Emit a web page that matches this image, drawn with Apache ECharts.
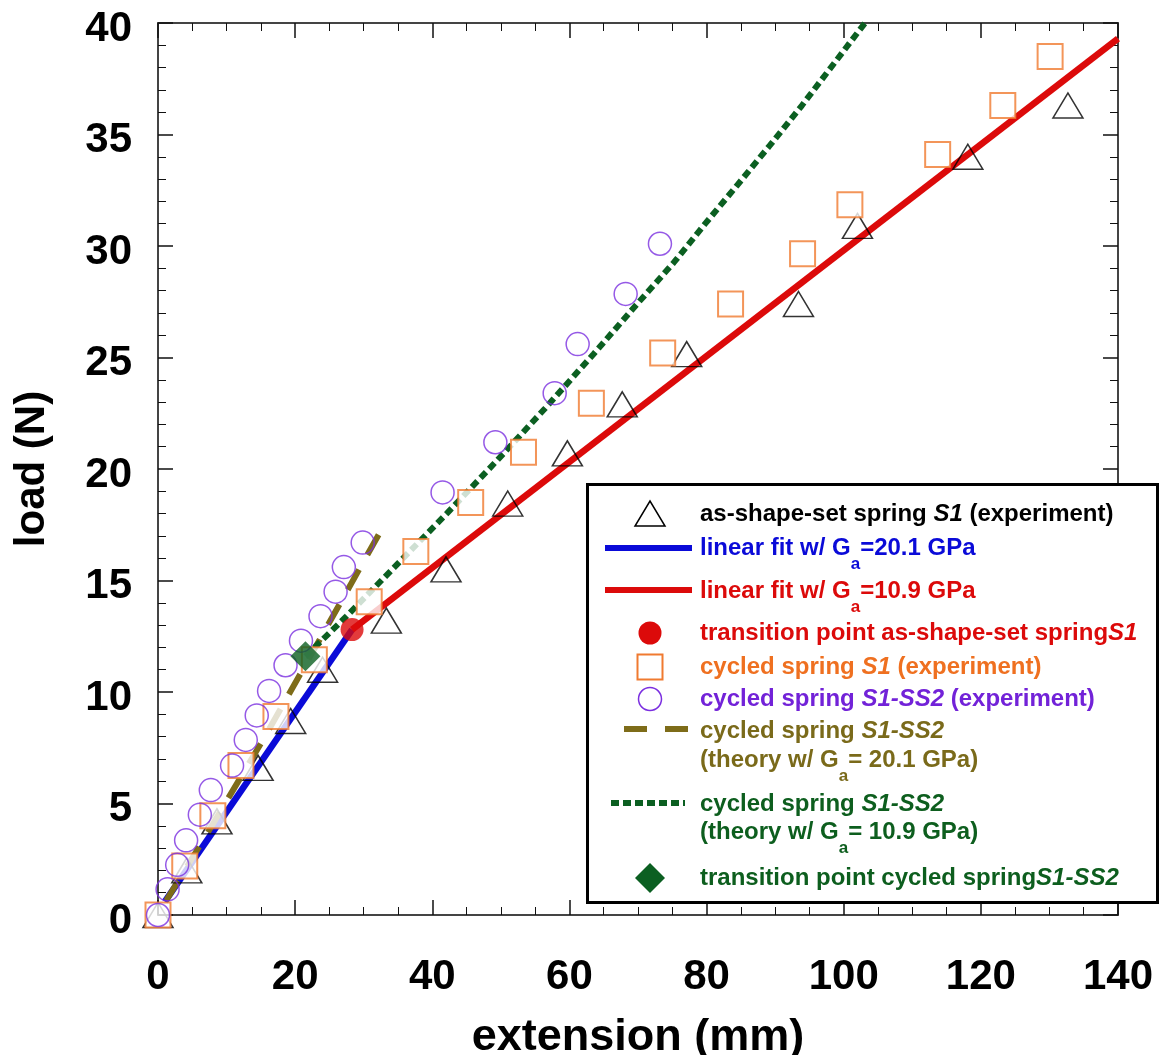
<!DOCTYPE html>
<html>
<head>
<meta charset="utf-8">
<script src="https://cdn.jsdelivr.net/npm/echarts@6/dist/echarts.min.js"></script>
<style>
  html, body { margin: 0; padding: 0; background: #fff; }
  #chart { width: 1160px; height: 1055px; }
</style>
</head>
<body>
<div id="chart"></div>
<script>
// Load-extension data for the S1 / S1-SS2 springs
const xRange = [0, 140];
const yRange = [0, 40];

// as-shape-set spring S1 (experiment) [extension mm, load N]
const asSetS1 = [
  [0, 0], [4.2, 2.0], [8.6, 4.2], [14.6, 6.6], [19.35, 8.7], [24.0, 11.0],
  [33.3, 13.2], [42.0, 15.5], [51.0, 18.45], [59.7, 20.7], [67.7, 22.9],
  [77.1, 25.15], [93.4, 27.4], [102.0, 30.9], [118.1, 34.0], [132.7, 36.3]
];
// cycled spring S1 (experiment)
const cycledS1 = [
  [0, 0], [3.9, 2.2], [8.0, 4.45], [12.1, 6.7], [17.2, 8.9], [22.8, 11.45],
  [30.8, 14.05], [37.6, 16.3], [45.6, 18.5], [53.3, 20.75], [63.2, 22.95],
  [73.6, 25.2], [83.5, 27.4], [94.0, 29.65], [100.9, 31.85], [113.7, 34.1],
  [123.2, 36.3], [130.1, 38.5]
];
// cycled spring S1-SS2 (experiment)
const cycledS1SS2 = [
  [0, 0], [1.4, 1.15], [2.8, 2.25], [4.1, 3.35], [6.1, 4.5], [7.7, 5.6],
  [10.8, 6.7], [12.8, 7.85], [14.4, 8.95], [16.2, 10.05], [18.6, 11.2],
  [20.85, 12.3], [23.7, 13.4], [25.9, 14.5], [27.1, 15.6], [29.85, 16.7],
  [41.5, 18.95], [49.2, 21.2], [57.85, 23.4], [61.2, 25.6], [68.2, 27.85],
  [73.2, 30.1]
];
// linear fits of the as-shape-set spring
const fitG201 = [[1.0, 0.6], [28.3, 12.8]];
const fitG109 = [[28.3, 12.8], [140, 39.3]];
// theory curves for cycled spring S1-SS2
const theoryG201 = [[1.2, 0.65], [6.6, 3.36], [15.6, 8.0], [23.4, 12.25], [32.9, 17.45]];
const theoryG109 = [
  [21.5, 11.6], [27.5, 13.4], [34.8, 15.7], [42.1, 18.0], [49.5, 20.4],
  [56.4, 22.7], [63.5, 25.15], [70.3, 27.55], [75.2, 29.25], [79.8, 31.0],
  [84.4, 32.7], [89.2, 34.5], [93.9, 36.3], [98.5, 38.15], [103.1, 40.0]
];
// transition points
const transitionS1 = [[28.3, 12.8]];
const transitionS1SS2 = [[21.5, 11.6]];

const FONT = '"Liberation Sans", Arial, Helvetica, sans-serif';
const C = {
  black: '#000000', blue: '#0a0ad8', red: '#dc0a0a', orange: '#f07a30',
  orangeText: '#ef7020', purple: '#7b2fe0', purpleText: '#7222d8',
  olive: '#7e6c19', oliveText: '#7a6a1a', green: '#0b5f21', greenText: '#0d5e1e'
};

function axisCommon(extra) {
  return Object.assign({
    type: 'value',
    axisLine: { show: true, onZero: false, lineStyle: { color: '#444', width: 2 } },
    axisTick: { show: true, inside: true, length: 15, lineStyle: { color: '#111', width: 1.5 } },
    minorTick: { show: true, length: 8, lineStyle: { color: '#111', width: 1 } },
    splitLine: { show: false },
    minorSplitLine: { show: false }
  }, extra);
}

const labelStyle = { fontSize: 42, fontWeight: 'bold', color: '#000', fontFamily: FONT };

// legend text rows, laid out with measured widths so subscripts sit under the line
const measureCtx = document.createElement('canvas').getContext('2d');
const LEG_SIZE = 24, SUB_SIZE = 17;
function fontOf(kind) {
  if (kind === 'i') return 'italic bold ' + LEG_SIZE + 'px ' + FONT;
  if (kind === 's') return 'bold ' + SUB_SIZE + 'px ' + FONT;
  return 'bold ' + LEG_SIZE + 'px ' + FONT;
}
function textRow(x, y, segs, color) {
  const out = [];
  let cx = x;
  segs.forEach(function (s) {
    const kind = s[0], txt = s[1];
    const f = fontOf(kind);
    measureCtx.font = f;
    out.push({
      type: 'text', z: 101, silent: true,
      x: cx, y: kind === 's' ? y + 16 : y,
      style: { text: txt, fill: color, font: f, align: 'left', verticalAlign: 'middle' }
    });
    cx += measureCtx.measureText(txt).width;
  });
  return out;
}

const LX = 650, TX = 700;
const legendEls = [
  { type: 'rect', z: 100, silent: true, shape: { x: 587.5, y: 484.5, width: 570, height: 418 },
    style: { fill: '#fff', stroke: '#000', lineWidth: 3 } },
  // symbols
  { type: 'polygon', z: 101, silent: true, shape: { points: [[LX - 15, 526], [LX + 15, 526], [LX, 501]] },
    style: { fill: 'none', stroke: '#000', lineWidth: 1.5 } },
  { type: 'line', z: 101, silent: true, shape: { x1: 605, y1: 548, x2: 692, y2: 548 },
    style: { stroke: C.blue, lineWidth: 6 } },
  { type: 'line', z: 101, silent: true, shape: { x1: 605, y1: 590, x2: 692, y2: 590 },
    style: { stroke: C.red, lineWidth: 6 } },
  { type: 'circle', z: 101, silent: true, shape: { cx: LX, cy: 633, r: 11.5 },
    style: { fill: C.red } },
  { type: 'rect', z: 101, silent: true, shape: { x: LX - 12.5, y: 667 - 12.5, width: 25, height: 25 },
    style: { fill: '#fff', stroke: C.orange, lineWidth: 2 } },
  { type: 'circle', z: 101, silent: true, shape: { cx: LX, cy: 699, r: 11.5 },
    style: { fill: 'none', stroke: C.purple, lineWidth: 1.5 } },
  { type: 'line', z: 101, silent: true, shape: { x1: 624, y1: 729, x2: 688, y2: 729 },
    style: { stroke: C.olive, lineWidth: 6, lineDash: [23, 18] } },
  { type: 'line', z: 101, silent: true, shape: { x1: 611, y1: 803, x2: 685, y2: 803 },
    style: { stroke: C.green, lineWidth: 6, lineDash: [8, 4] } },
  { type: 'polygon', z: 101, silent: true,
    shape: { points: [[LX, 863], [LX + 15, 878], [LX, 893], [LX - 15, 878]] },
    style: { fill: C.green } }
].concat(
  textRow(TX, 514, [['n', 'as-shape-set spring '], ['i', 'S1'], ['n', ' (experiment)']], C.black),
  textRow(TX, 548, [['n', 'linear fit w/ G'], ['s', 'a'], ['n', '=20.1 GPa']], C.blue),
  textRow(TX, 591, [['n', 'linear fit w/ G'], ['s', 'a'], ['n', '=10.9 GPa']], C.red),
  textRow(TX, 633, [['n', 'transition point as-shape-set spring'], ['i', 'S1']], C.red),
  textRow(TX, 667, [['n', 'cycled spring '], ['i', 'S1'], ['n', ' (experiment)']], C.orangeText),
  textRow(TX, 699, [['n', 'cycled spring '], ['i', 'S1-SS2'], ['n', ' (experiment)']], C.purpleText),
  textRow(TX, 731, [['n', 'cycled spring '], ['i', 'S1-SS2']], C.oliveText),
  textRow(TX, 760, [['n', '(theory w/ G'], ['s', 'a'], ['n', '= 20.1 GPa)']], C.oliveText),
  textRow(TX, 804, [['n', 'cycled spring '], ['i', 'S1-SS2']], C.greenText),
  textRow(TX, 832, [['n', '(theory w/ G'], ['s', 'a'], ['n', '= 10.9 GPa)']], C.greenText),
  textRow(TX, 878, [['n', 'transition point cycled spring'], ['i', 'S1-SS2']], C.greenText)
);

const chart = echarts.init(document.getElementById('chart'), null, { renderer: 'canvas' });

const option = {
  animation: false,
  backgroundColor: '#fff',
  grid: { left: 158, right: 42, top: 23, bottom: 140, containLabel: false, outerBoundsMode: 'none' },
  xAxis: [
    axisCommon({
      position: 'bottom', min: xRange[0], max: xRange[1], interval: 20,
      minorTick: { show: true, splitNumber: 4, length: 8, lineStyle: { color: '#111', width: 1 } },
      axisLabel: Object.assign({ margin: 41 }, labelStyle),
      name: 'extension (mm)', nameLocation: 'middle', nameGap: 100,
      nameTextStyle: { fontSize: 45, fontWeight: 'bold', color: '#000', fontFamily: FONT }
    }),
    axisCommon({
      position: 'top', min: xRange[0], max: xRange[1], interval: 20,
      minorTick: { show: true, splitNumber: 4, length: 8, lineStyle: { color: '#111', width: 1 } },
      axisLabel: { show: false }
    })
  ],
  yAxis: [
    axisCommon({
      position: 'left', min: yRange[0], max: yRange[1], interval: 5,
      minorTick: { show: true, splitNumber: 5, length: 8, lineStyle: { color: '#111', width: 1 } },
      axisLabel: Object.assign({ margin: 26, verticalAlign: 'top', lineHeight: 12 }, labelStyle),
      name: 'load (N)', nameLocation: 'middle', nameGap: 105, nameRotate: 90,
      nameTextStyle: { fontSize: 42, fontWeight: 'bold', color: '#000', fontFamily: FONT }
    }),
    axisCommon({
      position: 'right', min: yRange[0], max: yRange[1], interval: 5,
      minorTick: { show: true, splitNumber: 5, length: 8, lineStyle: { color: '#111', width: 1 } },
      axisLabel: { show: false }
    })
  ],
  series: [
    { name: 'linear fit G20.1', type: 'line', data: fitG201, symbol: 'none', silent: true, z: 2,
      lineStyle: { color: C.blue, width: 6.5 } },
    { name: 'linear fit G10.9', type: 'line', data: fitG109, symbol: 'none', silent: true, z: 2,
      lineStyle: { color: C.red, width: 6.5 } },
    { name: 'theory G20.1', type: 'line', data: theoryG201, symbol: 'none', silent: true, z: 2,
      lineStyle: { color: C.olive, width: 6, type: [23, 17] } },
    { name: 'theory G10.9', type: 'line', data: theoryG109, symbol: 'none', silent: true, z: 2,
      lineStyle: { color: C.green, width: 6, type: [8, 4.5] } },
    { name: 'as-shape-set S1', type: 'scatter', data: asSetS1, symbol: 'triangle',
      symbolSize: [30, 25], clip: false, silent: true, z: 3,
      itemStyle: { color: 'rgba(0,0,0,0)', borderColor: '#000', borderWidth: 1.5 } },
    { name: 'cycled S1', type: 'scatter', data: cycledS1, symbol: 'rect',
      symbolSize: 25, clip: false, silent: true, z: 4,
      itemStyle: { color: '#fff', borderColor: C.orange, borderWidth: 2 } },
    { name: 'cycled S1-SS2', type: 'scatter', data: cycledS1SS2, symbol: 'circle',
      symbolSize: 23, clip: false, silent: true, z: 5,
      itemStyle: { color: 'rgba(0,0,0,0)', borderColor: C.purple, borderWidth: 1.5 } },
    { name: 'transition S1', type: 'scatter', data: transitionS1, symbol: 'circle',
      symbolSize: 23, clip: false, silent: true, z: 6,
      itemStyle: { color: C.red } },
    { name: 'transition S1-SS2', type: 'scatter', data: transitionS1SS2, symbol: 'diamond',
      symbolSize: 30, clip: false, silent: true, z: 7,
      itemStyle: { color: C.green } }
  ],
  graphic: { elements: legendEls }
};

chart.setOption(option);
</script>
</body>
</html>
